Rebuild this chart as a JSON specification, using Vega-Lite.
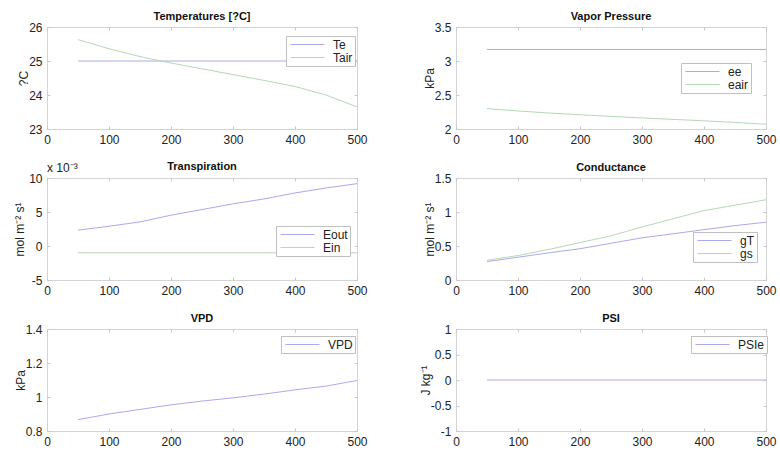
{
  "$schema": "https://vega.github.io/schema/vega-lite/v6.json",
  "background": "white",
  "padding": {"left": 13, "top": 10, "right": 5, "bottom": 5},
  "datasets": {
    "temp": [
      {"x": 50, "s": "Te", "v": 25}, {"x": 100, "s": "Te", "v": 25}, {"x": 150, "s": "Te", "v": 25}, {"x": 200, "s": "Te", "v": 25}, {"x": 250, "s": "Te", "v": 25}, {"x": 300, "s": "Te", "v": 25}, {"x": 350, "s": "Te", "v": 25}, {"x": 400, "s": "Te", "v": 25}, {"x": 450, "s": "Te", "v": 25}, {"x": 500, "s": "Te", "v": 25},
      {"x": 50, "s": "Tair", "v": 25.63}, {"x": 100, "s": "Tair", "v": 25.36}, {"x": 150, "s": "Tair", "v": 25.13}, {"x": 200, "s": "Tair", "v": 24.94}, {"x": 250, "s": "Tair", "v": 24.77}, {"x": 300, "s": "Tair", "v": 24.6}, {"x": 350, "s": "Tair", "v": 24.43}, {"x": 400, "s": "Tair", "v": 24.25}, {"x": 450, "s": "Tair", "v": 24.0}, {"x": 500, "s": "Tair", "v": 23.65}
    ],
    "vp": [
      {"x": 50, "s": "ee", "v": 3.17}, {"x": 100, "s": "ee", "v": 3.17}, {"x": 150, "s": "ee", "v": 3.17}, {"x": 200, "s": "ee", "v": 3.17}, {"x": 250, "s": "ee", "v": 3.17}, {"x": 300, "s": "ee", "v": 3.17}, {"x": 350, "s": "ee", "v": 3.17}, {"x": 400, "s": "ee", "v": 3.17}, {"x": 450, "s": "ee", "v": 3.17}, {"x": 500, "s": "ee", "v": 3.17},
      {"x": 50, "s": "eair", "v": 2.3}, {"x": 100, "s": "eair", "v": 2.265}, {"x": 150, "s": "eair", "v": 2.235}, {"x": 200, "s": "eair", "v": 2.21}, {"x": 250, "s": "eair", "v": 2.185}, {"x": 300, "s": "eair", "v": 2.163}, {"x": 350, "s": "eair", "v": 2.142}, {"x": 400, "s": "eair", "v": 2.12}, {"x": 450, "s": "eair", "v": 2.097}, {"x": 500, "s": "eair", "v": 2.07}
    ],
    "tr": [
      {"x": 50, "s": "Eout", "v": 0.00233}, {"x": 100, "s": "Eout", "v": 0.0029}, {"x": 150, "s": "Eout", "v": 0.00355}, {"x": 200, "s": "Eout", "v": 0.00453}, {"x": 250, "s": "Eout", "v": 0.00536}, {"x": 300, "s": "Eout", "v": 0.0062}, {"x": 350, "s": "Eout", "v": 0.00692}, {"x": 400, "s": "Eout", "v": 0.0078}, {"x": 450, "s": "Eout", "v": 0.00853}, {"x": 500, "s": "Eout", "v": 0.00917},
      {"x": 50, "s": "Ein", "v": -0.001}, {"x": 100, "s": "Ein", "v": -0.001}, {"x": 150, "s": "Ein", "v": -0.001}, {"x": 200, "s": "Ein", "v": -0.001}, {"x": 250, "s": "Ein", "v": -0.001}, {"x": 300, "s": "Ein", "v": -0.001}, {"x": 350, "s": "Ein", "v": -0.001}, {"x": 400, "s": "Ein", "v": -0.001}, {"x": 450, "s": "Ein", "v": -0.001}, {"x": 500, "s": "Ein", "v": -0.001}
    ],
    "cond": [
      {"x": 50, "s": "gT", "v": 0.27}, {"x": 100, "s": "gT", "v": 0.335}, {"x": 150, "s": "gT", "v": 0.4}, {"x": 200, "s": "gT", "v": 0.46}, {"x": 250, "s": "gT", "v": 0.54}, {"x": 300, "s": "gT", "v": 0.62}, {"x": 350, "s": "gT", "v": 0.68}, {"x": 400, "s": "gT", "v": 0.74}, {"x": 450, "s": "gT", "v": 0.8}, {"x": 500, "s": "gT", "v": 0.85},
      {"x": 50, "s": "gs", "v": 0.29}, {"x": 100, "s": "gs", "v": 0.36}, {"x": 150, "s": "gs", "v": 0.45}, {"x": 200, "s": "gs", "v": 0.55}, {"x": 250, "s": "gs", "v": 0.65}, {"x": 300, "s": "gs", "v": 0.78}, {"x": 350, "s": "gs", "v": 0.9}, {"x": 400, "s": "gs", "v": 1.02}, {"x": 450, "s": "gs", "v": 1.1}, {"x": 500, "s": "gs", "v": 1.18}
    ],
    "vpd": [
      {"x": 50, "s": "VPD", "v": 0.867}, {"x": 100, "s": "VPD", "v": 0.9}, {"x": 150, "s": "VPD", "v": 0.927}, {"x": 200, "s": "VPD", "v": 0.954}, {"x": 250, "s": "VPD", "v": 0.976}, {"x": 300, "s": "VPD", "v": 0.995}, {"x": 350, "s": "VPD", "v": 1.017}, {"x": 400, "s": "VPD", "v": 1.042}, {"x": 450, "s": "VPD", "v": 1.064}, {"x": 500, "s": "VPD", "v": 1.097}
    ],
    "psi": [
      {"x": 50, "s": "PSIe", "v": 0}, {"x": 100, "s": "PSIe", "v": 0}, {"x": 150, "s": "PSIe", "v": 0}, {"x": 200, "s": "PSIe", "v": 0}, {"x": 250, "s": "PSIe", "v": 0}, {"x": 300, "s": "PSIe", "v": 0}, {"x": 350, "s": "PSIe", "v": 0}, {"x": 400, "s": "PSIe", "v": 0}, {"x": 450, "s": "PSIe", "v": 0}, {"x": 500, "s": "PSIe", "v": 0}
    ],
    "sci": [{"label": "x 10⁻³"}]
  },
  "columns": 2,
  "spacing": {"row": 49, "column": 99},
  "bounds": "flush",
  "resolve": {"scale": {"color": "independent"}, "legend": {"color": "independent"}},
  "concat": [
    {
      "title": "Temperatures [?C]",
      "width": 310, "height": 102,
      "data": {"name": "temp"},
      "resolve": {"axis": {"x": "independent", "y": "independent"}},
      "layer": [
        {
          "mark": {"type": "line", "strokeWidth": 1},
          "encoding": {
            "x": {"field": "x", "type": "quantitative", "scale": {"domain": [0, 500], "nice": false}, "axis": {"values": [0, 100, 200, 300, 400, 500], "title": null}},
            "y": {"field": "v", "type": "quantitative", "scale": {"domain": [23, 26], "nice": false, "zero": false}, "axis": {"values": [23, 24, 25, 26], "title": "?C"}},
            "color": {"field": "s", "type": "nominal", "scale": {"domain": ["Te", "Tair"], "range": ["#aaaaee", "#b6d8b6"]}, "legend": {"legendX": 239, "legendY": 9, "symbolType": "stroke"}}
          }
        },
        {
          "mark": {"type": "point", "opacity": 0, "size": 0, "filled": true},
          "encoding": {
            "x": {"field": "x", "type": "quantitative", "axis": {"orient": "top", "values": [0, 100, 200, 300, 400, 500], "labels": false, "title": null}},
            "y": {"field": "v", "type": "quantitative", "axis": {"orient": "right", "values": [23, 24, 25, 26], "labels": false, "title": null}}
          }
        }
      ]
    },
    {
      "title": "Vapor Pressure",
      "width": 310, "height": 102,
      "resolve": {"axis": {"x": "independent", "y": "independent"}},
      "layer": [
        {
          "data": {"name": "vp"},
          "mark": {"type": "point", "opacity": 0, "size": 0, "filled": true},
          "encoding": {
            "x": {"field": "x", "type": "quantitative", "scale": {"domain": [0, 500], "nice": false}, "axis": {"orient": "top", "values": [0, 100, 200, 300, 400, 500], "labels": false, "title": null}},
            "y": {"field": "v", "type": "quantitative", "scale": {"domain": [2, 3.5], "nice": false, "zero": false}, "axis": {"orient": "right", "values": [2, 2.5, 3, 3.5], "labels": false, "title": null}}
          }
        },
        {
          "data": {"name": "vp"},
          "mark": {"type": "line", "strokeWidth": 1},
          "encoding": {
            "x": {"field": "x", "type": "quantitative", "axis": {"orient": "bottom", "values": [0, 100, 200, 300, 400, 500], "title": null}},
            "y": {"field": "v", "type": "quantitative", "axis": {"orient": "left", "values": [2, 2.5, 3, 3.5], "title": "kPa"}},
            "color": {"field": "s", "type": "nominal", "scale": {"domain": ["ee", "eair"], "range": ["#aaaaee", "#b6d8b6"]}, "legend": {"legendX": 225, "legendY": 36, "symbolType": "stroke"}}
          }
        }
      ]
    },
    {
      "title": {"text": "Transpiration", "dy": 9},
      "width": 310, "height": 102,
      "resolve": {"axis": {"x": "independent", "y": "independent"}},
      "layer": [
        {
          "data": {"name": "tr"},
          "mark": {"type": "line", "strokeWidth": 1},
          "encoding": {
            "x": {"field": "x", "type": "quantitative", "scale": {"domain": [0, 500], "nice": false}, "axis": {"values": [0, 100, 200, 300, 400, 500], "title": null}},
            "y": {"field": "v", "type": "quantitative", "scale": {"domain": [-0.005, 0.01], "nice": false, "zero": false}, "axis": {"values": [-0.005, 0, 0.005, 0.01], "labelExpr": "round(datum.value * 1000) + ''", "title": "mol m⁻² s¹", "titlePadding": 2}},
            "color": {"field": "s", "type": "nominal", "scale": {"domain": ["Eout", "Ein"], "range": ["#aaaaee", "#b6d8b6"]}, "legend": {"legendX": 229, "legendY": 48, "symbolType": "stroke"}}
          }
        },
        {
          "data": {"name": "tr"},
          "mark": {"type": "point", "opacity": 0, "size": 0, "filled": true},
          "encoding": {
            "x": {"field": "x", "type": "quantitative", "axis": {"orient": "top", "values": [0, 100, 200, 300, 400, 500], "labels": false, "title": null}},
            "y": {"field": "v", "type": "quantitative", "axis": {"orient": "right", "values": [-0.005, 0, 0.005, 0.01], "labels": false, "title": null}}
          }
        },
        {
          "data": {"name": "sci"},
          "mark": {"type": "text", "align": "left", "baseline": "bottom", "dy": -3, "fontSize": 12, "color": "#222222"},
          "encoding": {
            "x": {"datum": 0, "axis": null},
            "y": {"datum": 0.01, "axis": null},
            "text": {"field": "label"}
          }
        }
      ]
    },
    {
      "title": "Conductance",
      "width": 310, "height": 102,
      "data": {"name": "cond"},
      "resolve": {"axis": {"x": "independent", "y": "independent"}},
      "layer": [
        {
          "mark": {"type": "line", "strokeWidth": 1},
          "encoding": {
            "x": {"field": "x", "type": "quantitative", "scale": {"domain": [0, 500], "nice": false}, "axis": {"values": [0, 100, 200, 300, 400, 500], "title": null}},
            "y": {"field": "v", "type": "quantitative", "scale": {"domain": [0, 1.5], "nice": false}, "axis": {"values": [0, 0.5, 1, 1.5], "title": "mol m⁻² s¹"}},
            "color": {"field": "s", "type": "nominal", "scale": {"domain": ["gT", "gs"], "range": ["#aaaaee", "#b6d8b6"]}, "legend": {"legendX": 237, "legendY": 54, "symbolType": "stroke"}}
          }
        },
        {
          "mark": {"type": "point", "opacity": 0, "size": 0, "filled": true},
          "encoding": {
            "x": {"field": "x", "type": "quantitative", "axis": {"orient": "top", "values": [0, 100, 200, 300, 400, 500], "labels": false, "title": null}},
            "y": {"field": "v", "type": "quantitative", "axis": {"orient": "right", "values": [0, 0.5, 1, 1.5], "labels": false, "title": null}}
          }
        }
      ]
    },
    {
      "title": "VPD",
      "width": 310, "height": 102,
      "data": {"name": "vpd"},
      "resolve": {"axis": {"x": "independent", "y": "independent"}},
      "layer": [
        {
          "mark": {"type": "line", "strokeWidth": 1},
          "encoding": {
            "x": {"field": "x", "type": "quantitative", "scale": {"domain": [0, 500], "nice": false}, "axis": {"values": [0, 100, 200, 300, 400, 500], "title": null}},
            "y": {"field": "v", "type": "quantitative", "scale": {"domain": [0.8, 1.4], "nice": false, "zero": false}, "axis": {"values": [0.8, 1, 1.2, 1.4], "title": "kPa"}},
            "color": {"field": "s", "type": "nominal", "scale": {"domain": ["VPD"], "range": ["#aaaaee"]}, "legend": {"legendX": 234, "legendY": 7, "symbolType": "stroke"}}
          }
        },
        {
          "mark": {"type": "point", "opacity": 0, "size": 0, "filled": true},
          "encoding": {
            "x": {"field": "x", "type": "quantitative", "axis": {"orient": "top", "values": [0, 100, 200, 300, 400, 500], "labels": false, "title": null}},
            "y": {"field": "v", "type": "quantitative", "axis": {"orient": "right", "values": [0.8, 1, 1.2, 1.4], "labels": false, "title": null}}
          }
        }
      ]
    },
    {
      "title": "PSI",
      "width": 310, "height": 102,
      "data": {"name": "psi"},
      "resolve": {"axis": {"x": "independent", "y": "independent"}},
      "layer": [
        {
          "mark": {"type": "line", "strokeWidth": 1},
          "encoding": {
            "x": {"field": "x", "type": "quantitative", "scale": {"domain": [0, 500], "nice": false}, "axis": {"values": [0, 100, 200, 300, 400, 500], "title": null}},
            "y": {"field": "v", "type": "quantitative", "scale": {"domain": [-1, 1], "nice": false}, "axis": {"values": [-1, -0.5, 0, 0.5, 1], "title": "J kg⁻¹"}},
            "color": {"field": "s", "type": "nominal", "scale": {"domain": ["PSIe"], "range": ["#aaaaee"]}, "legend": {"legendX": 235, "legendY": 7, "symbolType": "stroke"}}
          }
        },
        {
          "mark": {"type": "point", "opacity": 0, "size": 0, "filled": true},
          "encoding": {
            "x": {"field": "x", "type": "quantitative", "axis": {"orient": "top", "values": [0, 100, 200, 300, 400, 500], "labels": false, "title": null}},
            "y": {"field": "v", "type": "quantitative", "axis": {"orient": "right", "values": [-1, -0.5, 0, 0.5, 1], "labels": false, "title": null}}
          }
        }
      ]
    }
  ],
  "config": {
    "font": "Liberation Sans",
    "view": {"stroke": "#d4d4d4", "strokeWidth": 1},
    "axis": {"domain": false, "grid": false, "ticks": true, "tickSize": -3, "tickColor": "#c8c8c8", "labelFontSize": 12, "labelColor": "#222222", "labelFlush": false, "labelOverlap": false, "labelPadding": 8, "labelExpr": "datum.value + ''", "titleFontSize": 12, "titleFontWeight": "normal", "titleColor": "#222222", "titlePadding": -2},
    "title": {"fontSize": 11, "fontWeight": "bold", "color": "#111111", "offset": -1},
    "legend": {"orient": "none", "title": null, "strokeColor": "#c0c0c0", "fillColor": "white", "padding": 2, "clipHeight": 13, "symbolSize": 1156, "symbolStrokeWidth": 1, "labelFontSize": 12, "labelColor": "#222222", "rowPadding": 0, "labelOffset": 8, "symbolOffset": 2}
  }
}
